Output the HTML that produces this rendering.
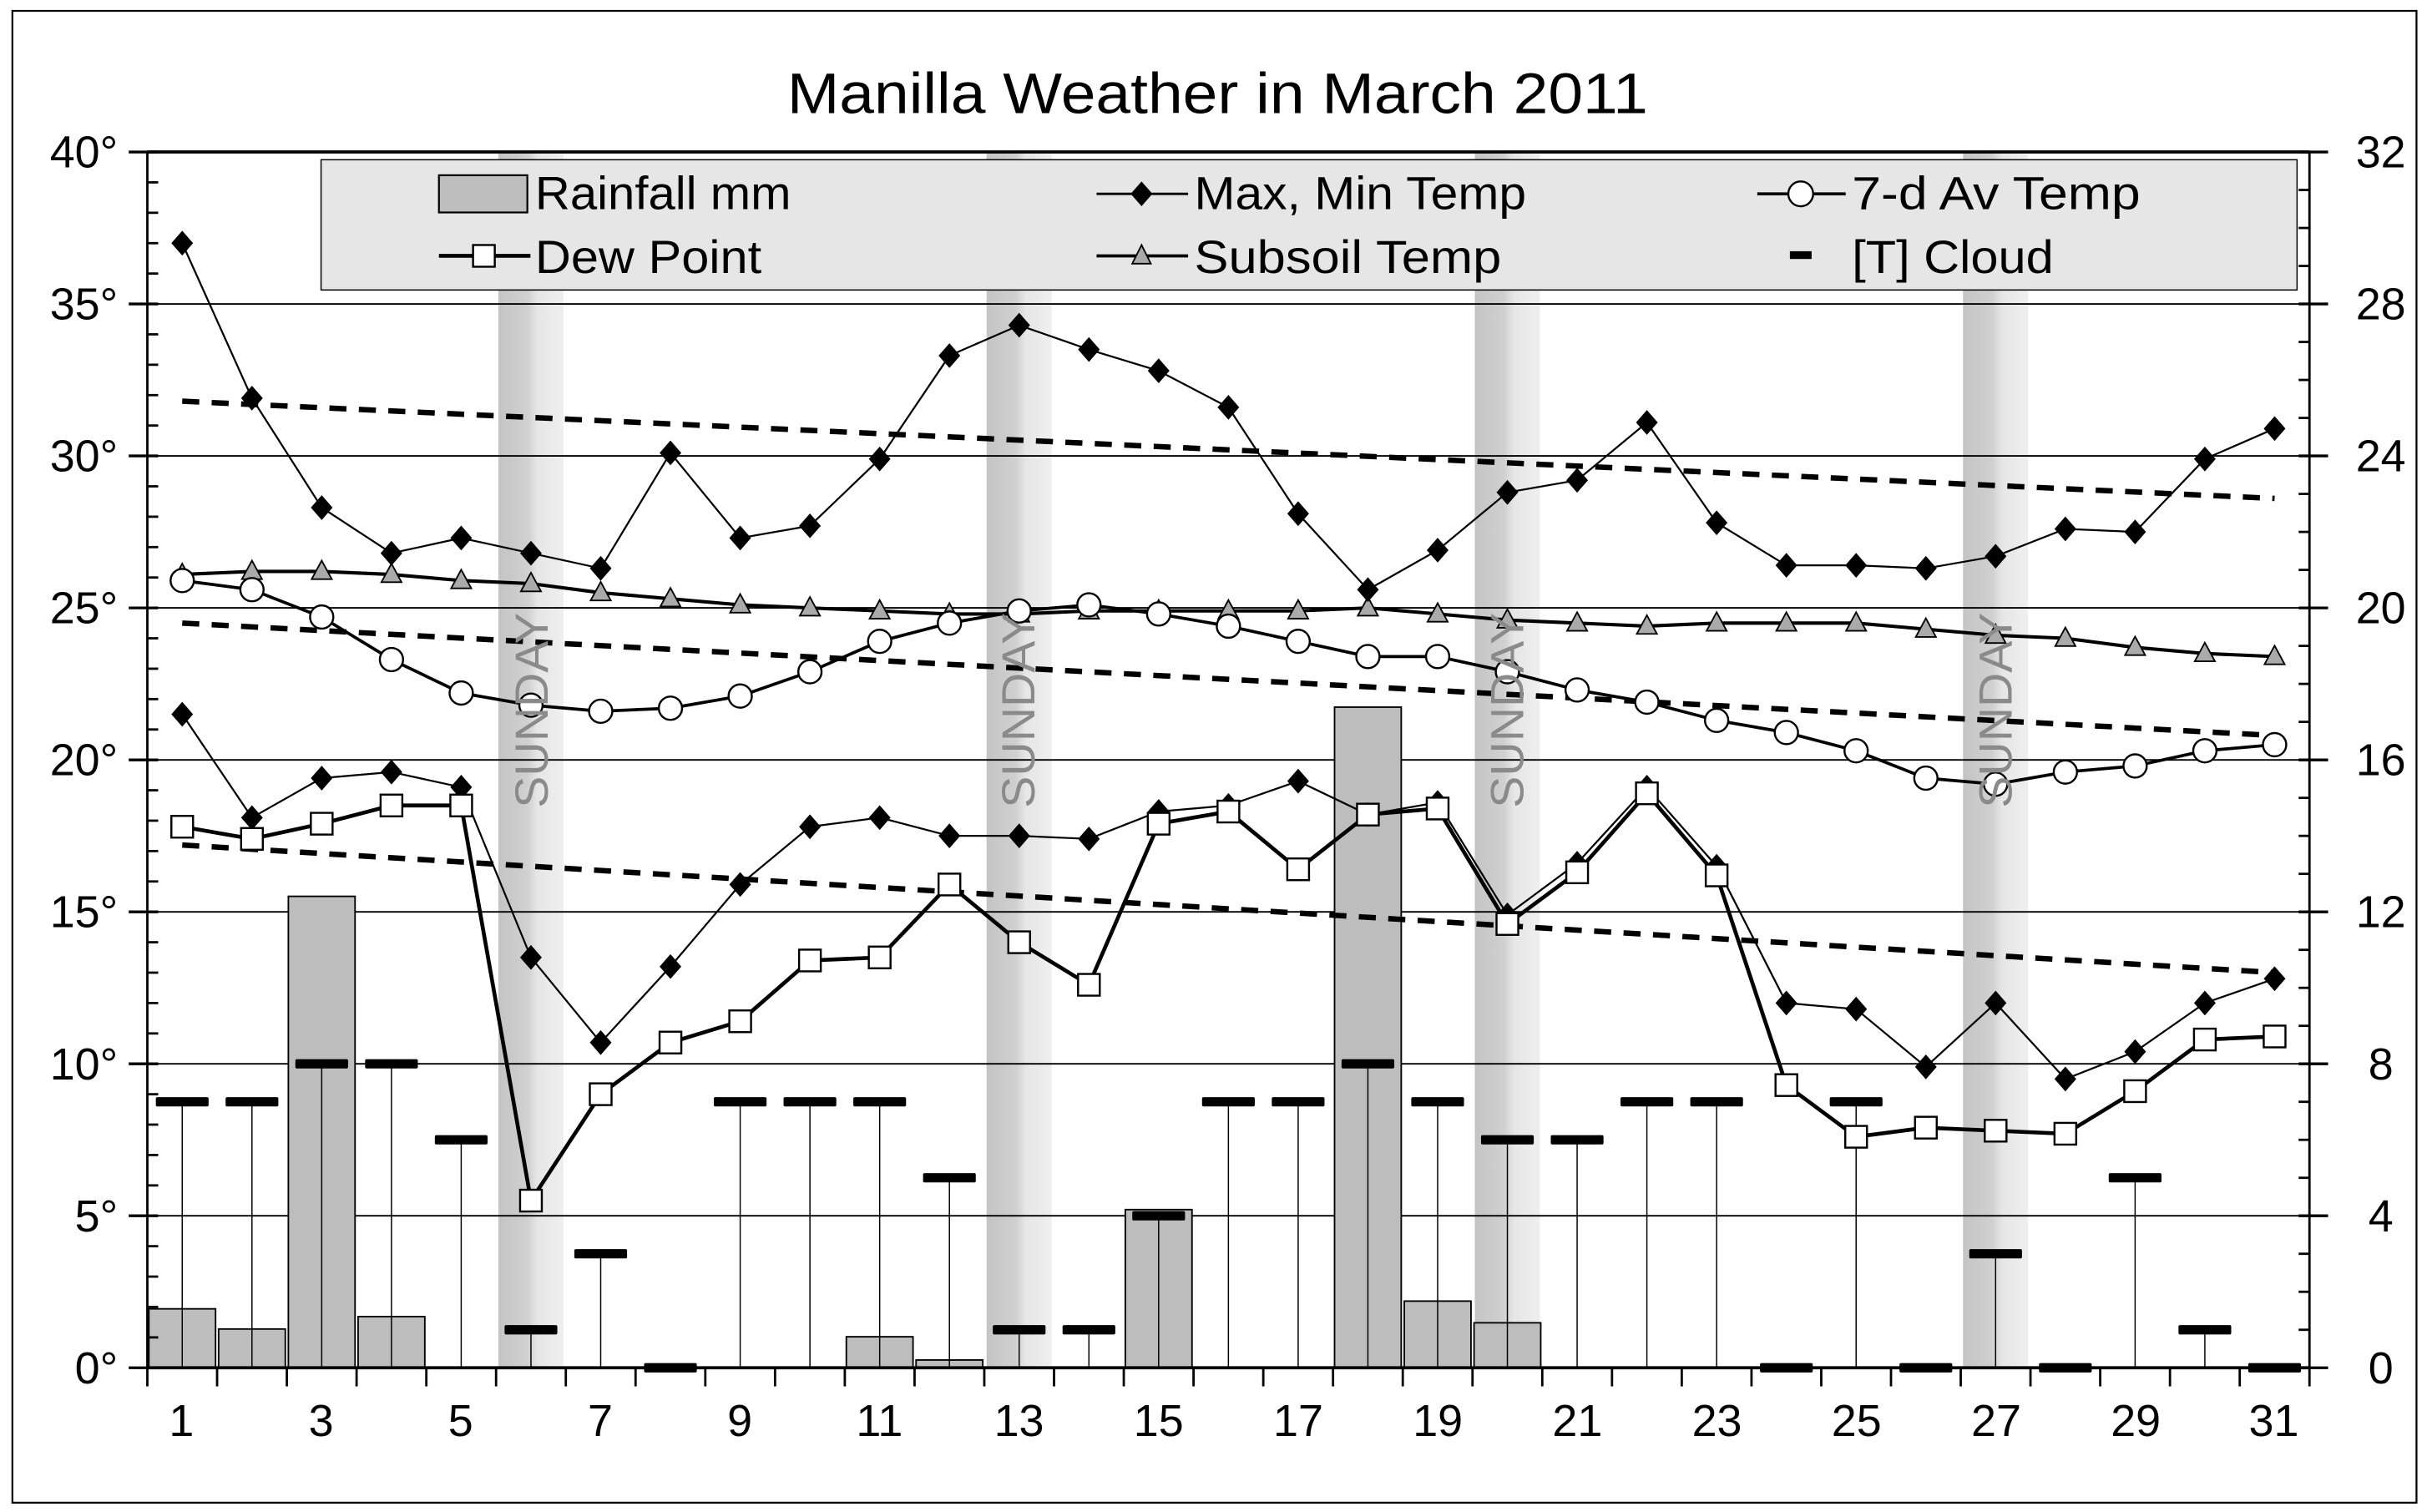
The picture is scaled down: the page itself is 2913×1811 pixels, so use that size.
<!DOCTYPE html>
<html><head><meta charset="utf-8"><style>
html,body{margin:0;padding:0;background:#fff}
svg{display:block}
text{font-family:"Liberation Sans",Arial,sans-serif}
</style></head><body>
<svg id="c" width="2913" height="1811" viewBox="0 0 1568 975" preserveAspectRatio="none" xmlns="http://www.w3.org/2000/svg">
<defs>
<linearGradient id="sg" x1="0" x2="1" y1="0" y2="0">
<stop offset="0" stop-color="#c4c4c4"/><stop offset="0.45" stop-color="#d0d0d0"/><stop offset="0.6" stop-color="#e6e6e6"/><stop offset="1" stop-color="#efefef"/>
</linearGradient>
</defs>
<rect x="8" y="7" width="1550" height="962" fill="#fff" stroke="#000" stroke-width="1.2"/>
<g id="bg"></g>
<rect x="207" y="103" width="1274" height="84" fill="#e6e6e6" stroke="#000" stroke-width="0.8"/>
<g id="g"></g>
<text x="785" y="73" font-size="37" text-anchor="middle" textLength="555" lengthAdjust="spacingAndGlyphs">Manilla Weather in March 2011</text>
<g font-size="29" text-anchor="end">
<text x="76" y="108">40°</text><text x="76" y="206">35°</text><text x="76" y="304">30°</text><text x="76" y="402">25°</text>
<text x="76" y="500">20°</text><text x="76" y="598">15°</text><text x="76" y="696">10°</text><text x="76" y="794">5°</text><text x="76" y="892">0°</text>
</g>
<g font-size="29" text-anchor="middle">
<text x="1535" y="108">32</text><text x="1535" y="206">28</text><text x="1535" y="304">24</text><text x="1535" y="402">20</text>
<text x="1535" y="500">16</text><text x="1535" y="598">12</text><text x="1535" y="696">8</text><text x="1535" y="794">4</text><text x="1535" y="892">0</text>
</g>
<g font-size="29" text-anchor="middle">
<text x="117" y="926">1</text><text x="207" y="926">3</text><text x="297" y="926">5</text><text x="387" y="926">7</text>
<text x="477" y="926">9</text><text x="567" y="926">11</text><text x="657" y="926">13</text><text x="747" y="926">15</text>
<text x="837" y="926">17</text><text x="927" y="926">19</text><text x="1017" y="926">21</text><text x="1107" y="926">23</text>
<text x="1197" y="926">25</text><text x="1287" y="926">27</text><text x="1377" y="926">29</text><text x="1466" y="926">31</text>
</g>
<g font-size="30" fill="#8a8a8a" text-anchor="middle">
<text transform="translate(353,458) rotate(-90)" textLength="126" lengthAdjust="spacingAndGlyphs">SUNDAY</text>
<text transform="translate(667,458) rotate(-90)" textLength="126" lengthAdjust="spacingAndGlyphs">SUNDAY</text>
<text transform="translate(982,458) rotate(-90)" textLength="126" lengthAdjust="spacingAndGlyphs">SUNDAY</text>
<text transform="translate(1297,458) rotate(-90)" textLength="126" lengthAdjust="spacingAndGlyphs">SUNDAY</text>
</g>
<g font-size="30">
<text x="345" y="135" textLength="165" lengthAdjust="spacingAndGlyphs">Rainfall mm</text>
<text x="770" y="135" textLength="214" lengthAdjust="spacingAndGlyphs">Max, Min Temp</text>
<text x="1194" y="135" textLength="186" lengthAdjust="spacingAndGlyphs">7-d Av Temp</text>
<text x="345" y="176" textLength="146" lengthAdjust="spacingAndGlyphs">Dew Point</text>
<text x="770" y="176" textLength="198" lengthAdjust="spacingAndGlyphs">Subsoil Temp</text>
<text x="1194" y="176" textLength="130" lengthAdjust="spacingAndGlyphs">[T] Cloud</text>
</g>
</svg>
<script>
const NS="http://www.w3.org/2000/svg";
const bg=document.getElementById('bg'),g=document.getElementById('g');
function el(p,t,a){const e=document.createElementNS(NS,t);for(const k in a)e.setAttribute(k,a[k]);p.appendChild(e);return e;}
const L=95,R=1489,T=98,B=882,W=(R-L)/31;
const X=d=>L+(d-0.5)*W, Y=t=>B-19.6*t, YR=v=>B-24.5*v;
[6,13,20,27].forEach(d=>el(bg,'rect',{x:X(d)-21,y:T,width:42,height:B-T,fill:'url(#sg)'}));
for(let t=5;t<=35;t+=5)el(bg,'line',{x1:L,x2:R,y1:Y(t),y2:Y(t),stroke:'#000','stroke-width':1});
const rain={1:844,2:857,3:578,4:849,11:862,12:877,15:780,18:456,19:839,20:853};
for(const d in rain)el(bg,'rect',{x:X(+d)-21.5,y:rain[d],width:43,height:B-rain[d],fill:'#bdbdbd',stroke:'#000','stroke-width':1});
const cl=[7,7,8,8,6,1,3,0,7,7,7,5,1,1,4,7,7,8,7,6,6,7,7,0,7,0,3,0,5,1,0];
cl.forEach((v,i)=>{const x=X(i+1);if(v>0)el(g,'line',{x1:x,x2:x,y1:YR(v),y2:B,stroke:'#000','stroke-width':0.8});el(g,'rect',{x:x-17,y:YR(v)-3,width:34,height:6,fill:'#000',rx:1});});
[[31.8,28.6],[24.5,20.8],[17.2,13.0]].forEach(([a,b])=>el(g,'line',{x1:X(1),x2:X(31),y1:Y(a),y2:Y(b),stroke:'#000','stroke-width':3.5,'stroke-dasharray':'11 8'}));
function pts(arr){return arr.map((v,i)=>X(i+1)+','+Y(v)).join(' ');}
const mx=[37,31.9,28.3,26.8,27.3,26.8,26.3,30.1,27.3,27.7,29.9,33.3,34.3,33.5,32.8,31.6,28.1,25.6,26.9,28.8,29.2,31.1,27.8,26.4,26.4,26.3,26.7,27.6,27.5,29.9,30.9];
const mn=[21.5,18.1,19.4,19.6,19.1,13.5,10.7,13.2,15.9,17.8,18.1,17.5,17.5,17.4,18.3,18.5,19.3,18.2,18.6,14.9,16.6,19.1,16.5,12,11.8,9.9,12,9.5,10.4,12,12.8];
const dw=[17.8,17.4,17.9,18.5,18.5,5.5,9,10.7,11.4,13.4,13.5,15.9,14,12.6,17.9,18.3,16.4,18.2,18.4,14.6,16.3,18.9,16.2,9.3,7.6,7.9,7.8,7.7,9.1,10.8,10.9];
const av=[25.9,25.6,24.7,23.3,22.2,21.8,21.6,21.7,22.1,22.9,23.9,24.5,24.9,25.1,24.8,24.4,23.9,23.4,23.4,22.9,22.3,21.9,21.3,20.9,20.3,19.4,19.2,19.6,19.8,20.3,20.5];
const ss=[26.1,26.2,26.2,26.1,25.9,25.8,25.5,25.3,25.1,25,24.9,24.8,24.8,24.9,24.9,24.9,24.9,25,24.8,24.6,24.5,24.4,24.5,24.5,24.5,24.3,24.1,24,23.7,23.5,23.4];
el(g,'polyline',{points:pts(ss),fill:'none',stroke:'#000','stroke-width':2.2});
ss.forEach((v,i)=>el(g,'polygon',{points:`${X(i+1)},${Y(v)-7} ${X(i+1)-6.5},${Y(v)+5} ${X(i+1)+6.5},${Y(v)+5}`,fill:'#aaa',stroke:'#000','stroke-width':1}));
el(g,'polyline',{points:pts(av),fill:'none',stroke:'#000','stroke-width':2});
av.forEach((v,i)=>el(g,'circle',{cx:X(i+1),cy:Y(v),r:7.5,fill:'#fff',stroke:'#000','stroke-width':1.3}));
el(g,'polyline',{points:pts(dw),fill:'none',stroke:'#000','stroke-width':2.5});
[mx,mn].forEach(a=>{el(g,'polyline',{points:pts(a),fill:'none',stroke:'#000','stroke-width':1.2});
a.forEach((v,i)=>{const x=X(i+1),y=Y(v);el(g,'polygon',{points:`${x},${y-8} ${x+7},${y} ${x},${y+8} ${x-7},${y}`,fill:'#000'});});});
dw.forEach((v,i)=>el(g,'rect',{x:X(i+1)-7,y:Y(v)-7,width:14,height:14,fill:'#fff',stroke:'#000','stroke-width':1.3}));
el(g,'line',{x1:L,x2:R,y1:T,y2:T,stroke:'#000','stroke-width':2});
el(g,'line',{x1:L,x2:R,y1:B,y2:B,stroke:'#000','stroke-width':2});
el(g,'line',{x1:L,x2:L,y1:T,y2:B,stroke:'#000','stroke-width':1.5});
el(g,'line',{x1:R,x2:R,y1:T,y2:B,stroke:'#000','stroke-width':1.5});
for(let t=0;t<=40;t++){const y=Y(t);if(t%5==0)el(g,'line',{x1:L-12,x2:L+7,y1:y,y2:y,stroke:'#000','stroke-width':1.8});else el(g,'line',{x1:L,x2:L+7,y1:y,y2:y,stroke:'#000','stroke-width':1.5});}
for(let v=0;v<=32;v++){const y=YR(v);if(v%4==0)el(g,'line',{x1:R-7,x2:R+12,y1:y,y2:y,stroke:'#000','stroke-width':1.8});else el(g,'line',{x1:R-7,x2:R,y1:y,y2:y,stroke:'#000','stroke-width':1.5});}
for(let d=0;d<=31;d++){const x=L+d*W;el(g,'line',{x1:x,x2:x,y1:B,y2:B+12,stroke:'#000','stroke-width':1.5});}
el(g,'rect',{x:283,y:113,width:57,height:24,fill:'#bdbdbd',stroke:'#000','stroke-width':1.2});
el(g,'line',{x1:707,x2:766,y1:125,y2:125,stroke:'#000','stroke-width':1.5});
el(g,'polygon',{points:'736,117 743,125 736,133 729,125',fill:'#000'});
el(g,'line',{x1:1133,x2:1190,y1:125,y2:125,stroke:'#000','stroke-width':2});
el(g,'circle',{cx:1161,cy:125,r:8,fill:'#fff',stroke:'#000','stroke-width':1.3});
el(g,'line',{x1:283,x2:342,y1:165,y2:165,stroke:'#000','stroke-width':2.5});
el(g,'rect',{x:305,y:158,width:14,height:14,fill:'#fff',stroke:'#000','stroke-width':1.3});
el(g,'line',{x1:707,x2:766,y1:165,y2:165,stroke:'#000','stroke-width':2});
el(g,'polygon',{points:'736,158 742,170 730,170',fill:'#aaa',stroke:'#000','stroke-width':1});
el(g,'rect',{x:1154,y:162,width:14,height:5,fill:'#000'});
</script>
</body></html>
